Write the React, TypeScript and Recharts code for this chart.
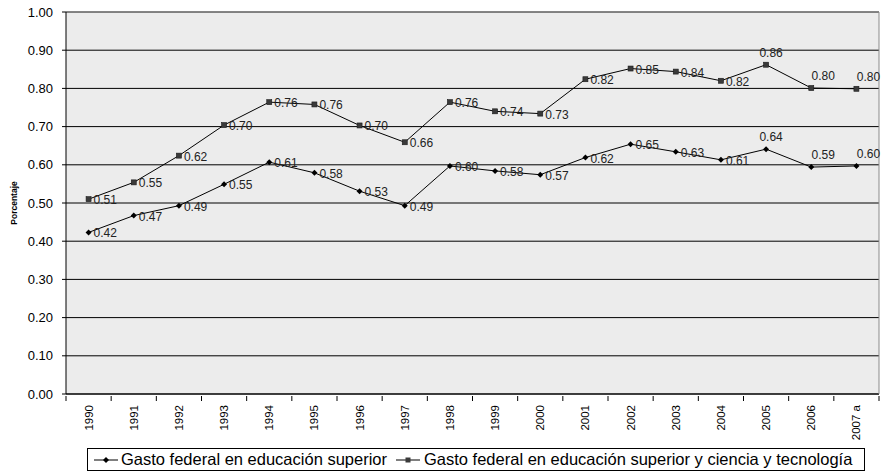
import { LineChart, Line, XAxis, YAxis, CartesianGrid, Legend, LabelList, ReferenceLine } from "recharts";

const years = [
  "1990", "1991", "1992", "1993", "1994", "1995", "1996", "1997", "1998",
  "1999", "2000", "2001", "2002", "2003", "2004", "2005", "2006", "2007 a",
];
// Gasto federal en educación superior (% PIB)
const superior = [
  0.423, 0.467, 0.493, 0.549, 0.607, 0.579, 0.531, 0.493, 0.597,
  0.584, 0.574, 0.619, 0.654, 0.634, 0.613, 0.641, 0.594, 0.597,
];
// Gasto federal en educación superior y ciencia y tecnología
const superiorCyT = [
  0.51, 0.554, 0.624, 0.704, 0.764, 0.758, 0.703, 0.659, 0.764,
  0.74, 0.734, 0.824, 0.852, 0.844, 0.82, 0.862, 0.801, 0.799,
];
const yTicks = [0, 0.1, 0.2, 0.3, 0.4, 0.5, 0.6, 0.7, 0.8, 0.9, 1.0];

const data = years.map((year, i) => ({ year, superior: superior[i], cyt: superiorCyT[i] }));

const FONT = "'Liberation Sans', Arial, sans-serif";
const W = 882;
const H = 474;
const PLOT_LEFT = 66;
const PLOT_RIGHT = 879;
const BAND = (PLOT_RIGHT - PLOT_LEFT) / years.length;

const Diamond = (props: any) => {
  const { cx, cy } = props;
  if (cx == null || cy == null) return null;
  return (
    <path
      d={`M${cx},${cy - 3}L${cx + 3},${cy}L${cx},${cy + 3}L${cx - 3},${cy}Z`}
      fill="#000"
    />
  );
};

const Square = (props: any) => {
  const { cx, cy } = props;
  if (cx == null || cy == null) return null;
  return (
    <rect x={cx - 2.5} y={cy - 2.5} width={5} height={5} fill="#3a3a3a" stroke="#1a1a1a" strokeWidth={0.6} />
  );
};

const makeLabel = (values: number[]) => (props: any) => {
  const { x, y, index } = props;
  const v = values[index];
  if (v == null) return null;
  const above = index >= 15;
  if (above) {
    const dx = index === 15 ? 5 : 12;
    return (
      <text x={x + dx} y={y - 8} textAnchor="middle" fontSize={12} fontFamily={FONT} fill="#222">
        {v.toFixed(2)}
      </text>
    );
  }
  return (
    <text x={x + 5} y={y + 5} textAnchor="start" fontSize={12} fontFamily={FONT} fill="#222">
      {v.toFixed(2)}
    </text>
  );
};

const YearTick = (props: any) => {
  const { x, y, payload, index } = props;
  const last = index === years.length - 1;
  return (
    <g>
      <line x1={x - BAND / 2} y1={y} x2={x - BAND / 2} y2={y + 5} stroke="#000" />
      {last && <line x1={x + BAND / 2} y1={y} x2={x + BAND / 2} y2={y + 5} stroke="#000" />}
      <text
        x={x}
        y={y + 9}
        dy="0.35em"
        transform={`rotate(-90 ${x} ${y + 9})`}
        textAnchor="end"
        fontSize={11.5}
        fontFamily={FONT}
        fill="#000"
      >
        {payload.value}
      </text>
    </g>
  );
};

const LegendBox = () => (
  <div
    style={{
      boxSizing: "border-box",
      width: 778,
      height: 23,
      border: "1px solid #000",
      background: "#fff",
      display: "flex",
      alignItems: "center",
      paddingLeft: 6,
      fontFamily: FONT,
      fontSize: 16.5,
      color: "#000",
      whiteSpace: "nowrap",
    }}
  >
    <svg width={24} height={10} style={{ marginRight: 3 }}>
      <line x1={0} y1={5} x2={24} y2={5} stroke="#000" />
      <path d="M12,2L15,5L12,8L9,5Z" fill="#000" />
    </svg>
    <span>Gasto federal en educación superior</span>
    <svg width={24} height={10} style={{ marginLeft: 9, marginRight: 4 }}>
      <line x1={0} y1={5} x2={24} y2={5} stroke="#000" />
      <rect x={9.5} y={2.5} width={5} height={5} fill="#3a3a3a" />
    </svg>
    <span>Gasto federal en educación superior y ciencia y tecnología</span>
  </div>
);

export default function App() {
  return (
    <div style={{ position: "absolute", left: 0, top: 0, width: W, height: H, background: "#fff" }}>
      <LineChart width={W} height={H} data={data} margin={{ top: 12, right: 2, left: 0, bottom: 0 }}>
        <CartesianGrid vertical={false} stroke="#000" fill="#ececec" />
        <XAxis
          dataKey="year"
          interval={0}
          height={80}
          padding={{ left: BAND / 2, right: BAND / 2 }}
          tickSize={0}
          tickLine={false}
          axisLine={{ stroke: "#000" }}
          tick={<YearTick />}
        />
        <YAxis
          width={PLOT_LEFT}
          domain={[0, 1]}
          ticks={yTicks}
          interval={0}
          tickFormatter={(v: number) => v.toFixed(2)}
          tickSize={4}
          tickMargin={9}
          tick={{ fontSize: 13, fontFamily: FONT, fill: "#000" }}
          axisLine={{ stroke: "#000" }}
          tickLine={{ stroke: "#000" }}
          label={{
            content: (p: any) => {
              const vb = p.viewBox || { y: 12, height: 382 };
              const cy = vb.y + vb.height / 2;
              return (
                <text
                  x={14}
                  y={cy}
                  transform={`rotate(-90 14 ${cy})`}
                  textAnchor="middle"
                  dy="0.35em"
                  fontSize={8.5}
                  fontWeight="bold"
                  fontFamily={FONT}
                  fill="#000"
                >
                  Porcentaje
                </text>
              );
            },
          }}
        />
        <YAxis
          yAxisId="right"
          orientation="right"
          width={1}
          domain={[0, 1]}
          tick={false}
          tickLine={false}
          axisLine={{ stroke: "#8a8a8a" }}
        />
        <ReferenceLine y={1} stroke="#8a8a8a" />
        <Legend
          layout="horizontal"
          verticalAlign="middle"
          align="center"
          wrapperStyle={{ left: 87, top: 448, width: 778, height: 23 }}
          content={() => <LegendBox />}
        />
        <Line
          dataKey="superior"
          stroke="#000"
          strokeWidth={1}
          dot={<Diamond />}
          activeDot={false}
          isAnimationActive={false}
        >
          <LabelList dataKey="superior" content={makeLabel(superior)} />
        </Line>
        <Line
          dataKey="cyt"
          stroke="#000"
          strokeWidth={1}
          dot={<Square />}
          activeDot={false}
          isAnimationActive={false}
        >
          <LabelList dataKey="cyt" content={makeLabel(superiorCyT)} />
        </Line>
      </LineChart>
    </div>
  );
}
